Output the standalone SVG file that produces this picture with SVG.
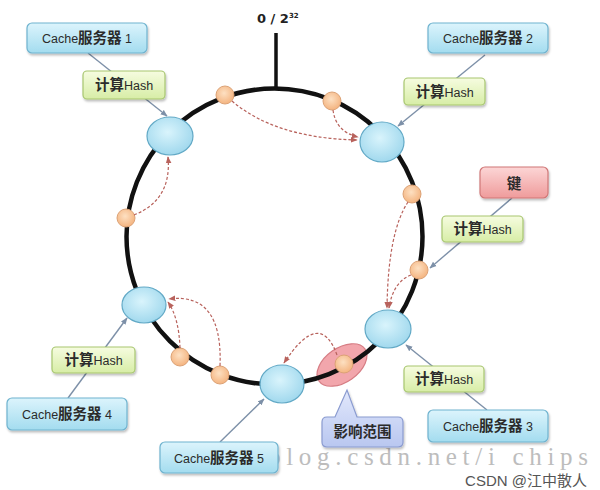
<svg xmlns="http://www.w3.org/2000/svg" width="600" height="490" viewBox="0 0 600 490">
<defs>
<style>
.lat{font-family:"Liberation Sans","Noto Sans CJK SC",sans-serif;font-size:12.5px;fill:#2b2b2b}
.cjk{font-family:"Noto Sans CJK SC",sans-serif;font-size:14.5px;font-weight:bold;fill:#2b2b2b}
.cache{fill:url(#gCache);stroke:#6fb3cf;stroke-width:1.2;filter:url(#sh)}
.hash{fill:url(#gHash);stroke:#a7c66f;stroke-width:1.2;filter:url(#sh)}
.node{fill:url(#gNode);stroke:#62a9c6;stroke-width:1.2}
.dot{fill:url(#gDot);stroke:#dca276;stroke-width:1}
.conn{stroke:#7d90a8;stroke-width:1.4;fill:none;marker-end:url(#aConn)}
.dash{stroke:#b8625c;stroke-width:1.2;stroke-dasharray:3 2;fill:none;marker-end:url(#aDash)}
</style>
<linearGradient id="gCache" x1="0" y1="0" x2="0" y2="1"><stop offset="0" stop-color="#dcf4fc"/><stop offset="1" stop-color="#a3dcef"/></linearGradient>
<linearGradient id="gHash" x1="0" y1="0" x2="0" y2="1"><stop offset="0" stop-color="#f6fce0"/><stop offset="1" stop-color="#d7eda6"/></linearGradient>
<linearGradient id="gKey" x1="0" y1="0" x2="0" y2="1"><stop offset="0" stop-color="#fcd6d6"/><stop offset="1" stop-color="#ef9b9b"/></linearGradient>
<linearGradient id="gCall" x1="0" y1="0" x2="0" y2="1"><stop offset="0" stop-color="#e2e8fc"/><stop offset="1" stop-color="#b9c7f0"/></linearGradient>
<radialGradient id="gNode" cx="0.45" cy="0.4" r="0.65"><stop offset="0" stop-color="#d9f4fc"/><stop offset="1" stop-color="#9cd6ec"/></radialGradient>
<radialGradient id="gDot" cx="0.45" cy="0.4" r="0.65"><stop offset="0" stop-color="#fde0c2"/><stop offset="1" stop-color="#f3b07a"/></radialGradient>
<filter id="sh" x="-10%" y="-10%" width="125%" height="135%"><feDropShadow dx="1" dy="2" stdDeviation="1.2" flood-color="#000" flood-opacity="0.25"/></filter>
<marker id="aConn" viewBox="0 0 10 10" refX="9" refY="5" markerWidth="7" markerHeight="7" orient="auto" markerUnits="userSpaceOnUse"><path d="M0,1 L10,5 L0,9 Z" fill="#7d90a8"/></marker>
<marker id="aDash" viewBox="0 0 10 10" refX="9" refY="5" markerWidth="7" markerHeight="7" orient="auto" markerUnits="userSpaceOnUse"><path d="M0,1 L10,5 L0,9 Z" fill="#b8625c"/></marker>
</defs>
<rect width="600" height="490" fill="#ffffff"/>

<text x="268" y="465" font-family="Liberation Serif,serif" font-size="25" fill="#bdbdbd" textLength="320" lengthAdjust="spacing">blog.csdn.net/i chips</text>

<g id="affected-range">
<ellipse cx="342" cy="365" rx="28" ry="17" transform="rotate(-35 342 365)" fill="#f2a6ac" stroke="#d67d84" stroke-width="1.2"/>
</g>

<g id="ring">
<circle cx="274.5" cy="236.5" r="148" fill="none" stroke="#111" stroke-width="4.5"/>
<line x1="276" y1="33" x2="276" y2="89" stroke="#111" stroke-width="3.5"/>
<text x="257" y="23" font-family="DejaVu Sans,sans-serif" font-size="13" font-weight="bold" fill="#222">0 / 2<tspan font-size="7" dy="-5">32</tspan></text>
</g>

<g id="dots">
<circle class="dot" cx="225" cy="95" r="9"/>
<circle class="dot" cx="332" cy="101" r="9"/>
<circle class="dot" cx="412" cy="194" r="9"/>
<circle class="dot" cx="126" cy="218" r="9"/>
<circle class="dot" cx="419" cy="270" r="9"/>
<circle class="dot" cx="180" cy="357" r="9"/>
<circle class="dot" cx="220" cy="375" r="9"/>
<circle class="dot" cx="344" cy="364" r="9"/>
</g>

<g id="node1"><ellipse class="node" cx="170" cy="136" rx="23" ry="19"/></g>
<g id="node2"><ellipse class="node" cx="382" cy="142" rx="22" ry="20"/></g>
<g id="node3"><ellipse class="node" cx="388" cy="329" rx="23" ry="19"/></g>
<g id="node4"><ellipse class="node" cx="144" cy="305" rx="22" ry="18"/></g>
<g id="node5"><ellipse class="node" cx="282" cy="384" rx="22" ry="19"/></g>

<g id="connectors">
<path class="dash" d="M232 101 Q275 138 357 140"/>
<path class="dash" d="M333 110 Q336 132 358 137"/>
<path class="dash" d="M134 215 Q172 200 168 157"/>
<path class="dash" d="M408 202 Q388 232 387 308"/>
<path class="dash" d="M411 275 Q393 282 389 308"/>
<path class="dash" d="M180 348 Q179 318 168 302"/>
<path class="dash" d="M220 366 Q223 292 169 299"/>
<path class="dash" d="M337 355 Q320 308 284 363"/>
<line class="conn" x1="88" y1="53" x2="167" y2="116"/>
<line class="conn" x1="485" y1="55" x2="398" y2="126"/>
<line class="conn" x1="512" y1="198" x2="430" y2="268"/>
<line class="conn" x1="487" y1="410" x2="406" y2="345"/>
<line class="conn" x1="68" y1="398" x2="127" y2="318"/>
<line class="conn" x1="220" y1="442" x2="264" y2="399"/>
</g>

<g id="cache1"><rect class="cache" x="27" y="23" width="120" height="30" rx="5"/><text class="lat" x="87" y="43" text-anchor="middle">Cache<tspan class="cjk">服务器</tspan> 1</text></g>
<g id="hash1"><rect class="hash" x="83" y="71" width="82" height="28" rx="4"/><text class="lat" x="124" y="90" text-anchor="middle"><tspan class="cjk">计算</tspan>Hash</text></g>

<g id="cache2"><rect class="cache" x="428" y="23" width="120" height="30" rx="5"/><text class="lat" x="488" y="43" text-anchor="middle">Cache<tspan class="cjk">服务器</tspan> 2</text></g>
<g id="hash2"><rect class="hash" x="404" y="78" width="81" height="27" rx="4"/><text class="lat" x="444.5" y="96.5" text-anchor="middle"><tspan class="cjk">计算</tspan>Hash</text></g>

<g id="key"><rect x="480" y="167" width="68" height="31" rx="5" fill="url(#gKey)" stroke="#d07777" stroke-width="1.2" filter="url(#sh)"/><text class="cjk" x="514" y="188.5" text-anchor="middle" font-size="17">键</text></g>
<g id="hash3"><rect class="hash" x="442" y="216" width="81" height="26" rx="4"/><text class="lat" x="482.5" y="234" text-anchor="middle"><tspan class="cjk">计算</tspan>Hash</text></g>

<g id="hash4"><rect class="hash" x="404" y="366" width="80" height="26" rx="4"/><text class="lat" x="444" y="384" text-anchor="middle"><tspan class="cjk">计算</tspan>Hash</text></g>
<g id="cache3"><rect class="cache" x="428" y="410" width="120" height="32" rx="5"/><text class="lat" x="488" y="431" text-anchor="middle">Cache<tspan class="cjk">服务器</tspan> 3</text></g>

<g id="hash5"><rect class="hash" x="52" y="347" width="83" height="26" rx="4"/><text class="lat" x="93.5" y="365" text-anchor="middle"><tspan class="cjk">计算</tspan>Hash</text></g>
<g id="cache4"><rect class="cache" x="7" y="398" width="120" height="32" rx="5"/><text class="lat" x="67" y="419" text-anchor="middle">Cache<tspan class="cjk">服务器</tspan> 4</text></g>

<g id="cache5"><rect class="cache" x="160" y="442" width="118" height="31" rx="5"/><text class="lat" x="219" y="462.5" text-anchor="middle">Cache<tspan class="cjk">服务器</tspan> 5</text></g>

<g id="callout"><path d="M327 417 L335 417 L347 390 L357 417 L398 417 Q403 417 403 422 L403 442 Q403 447 398 447 L327 447 Q322 447 322 442 L322 422 Q322 417 327 417 Z" fill="url(#gCall)" stroke="#8a9bd0" stroke-width="1.2" filter="url(#sh)"/><text class="cjk" x="362.5" y="437" text-anchor="middle" font-size="15">影响范围</text></g>

<text x="587" y="486" text-anchor="end" font-family="Liberation Sans,Noto Sans CJK SC,sans-serif" font-size="15" fill="#555">CSDN @江中散人</text>
</svg>
